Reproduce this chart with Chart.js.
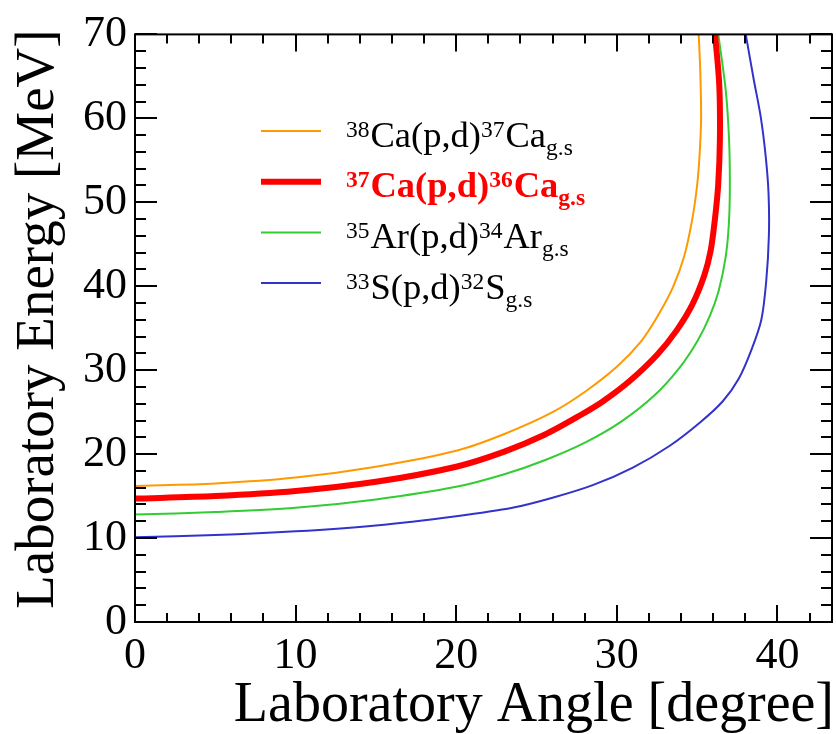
<!DOCTYPE html>
<html lang="en">
<head>
<meta charset="UTF-8">
<meta name="viewport" content="width=device-width, initial-scale=1.0">
<title>Laboratory kinematics (p,d)</title>
<script src="https://cdn.jsdelivr.net/npm/chart.js"></script>
<style>
	html, body { margin: 0; padding: 0; background: #fff; }
	canvas { display: block; }
</style>
</head>
<body>
<canvas id="kinChart" width="836" height="734"></canvas>
<script>
// deuteron lab energy [MeV] vs lab angle [deg], one pair of arrays per reaction
const ca38Angle  = [0, 5, 10, 15, 20, 23, 26, 28, 30, 31.5, 32.5, 33.5, 34.2, 34.7, 35.0, 35.15, 35.25, 35.2, 35.1];
const ca38Energy = [16.2, 16.5, 17.2, 18.5, 20.4, 22.4, 25.0, 27.4, 30.4, 33.4, 36.3, 39.9, 43.6, 48.0, 52.0, 55.5, 60.0, 65.5, 70.0];

const ca37Angle  = [0, 5, 10, 15, 20, 23, 25.5, 27.7, 29.15, 30.8, 32.5, 33.75, 34.7, 35.45, 35.85, 36.11, 36.31, 36.42, 36.38, 36.12];
const ca37Energy = [14.7, 15.0, 15.6, 16.7, 18.5, 20.3, 22.3, 24.6, 26.3, 28.7, 31.8, 34.8, 37.8, 41.3, 44.3, 48.0, 52.0, 57.5, 64.0, 70.0];

const ar35Angle  = [0, 5, 10, 15, 20, 23, 25.55, 28.05, 30.3, 32.35, 33.95, 35.03, 35.8, 36.35, 36.78, 36.98, 37.04, 36.99, 36.78, 36.32];
const ar35Energy = [12.8, 13.1, 13.6, 14.6, 16.1, 17.6, 19.3, 21.4, 23.9, 27.0, 30.4, 33.5, 36.5, 39.5, 43.5, 47.5, 52.0, 57.5, 63.4, 70.0];

const s33Angle  = [0, 5, 10, 15, 20, 23.5, 26, 28.5, 31, 33.3, 35.2, 36.6, 37.6, 38.4, 39.0, 39.3, 39.47, 39.45, 39.27, 38.96, 38.53, 38.03];
const s33Energy = [10.1, 10.35, 10.8, 11.5, 12.6, 13.6, 14.8, 16.3, 18.4, 21.0, 23.8, 26.3, 29.0, 32.5, 36.0, 40.5, 46.0, 51.0, 55.5, 60.2, 64.6, 70.0];

// TLatex style labels: ^{..} superscript, _{..} subscript
const reactionLabels = [
	'^{38}Ca(p,d)^{37}Ca_{g.s}',
	'^{37}Ca(p,d)^{36}Ca_{g.s}',
	'^{35}Ar(p,d)^{34}Ar_{g.s}',
	'^{33}S(p,d)^{32}S_{g.s}'
];

const xTickValues = [0, 10, 20, 30, 40];
const yTickValues = [0, 10, 20, 30, 40, 50, 60, 70];
const xRange = [0, 43.4];
const yRange = [0, 70];

const xTitle = 'Laboratory Angle [degree]';
const yTitle = 'Laboratory Energy [MeV]';

const SERIF = '"Liberation Serif", "DejaVu Serif", "Times New Roman", serif';
Chart.defaults.font.family = SERIF;

const styles = [
	{ color: '#ff9900', width: 2, bold: false, text: '#000' },
	{ color: '#ff0000', width: 6, bold: true,  text: '#ff0000' },
	{ color: '#33cc33', width: 2, bold: false, text: '#000' },
	{ color: '#3333cc', width: 2, bold: false, text: '#000' }
];

function toPoints(ang, en) {
	return ang.map((a, i) => ({ x: a, y: en[i] }));
}

const series = [
	toPoints(ca38Angle, ca38Energy),
	toPoints(ca37Angle, ca37Energy),
	toPoints(ar35Angle, ar35Energy),
	toPoints(s33Angle, s33Energy)
];

function parseLatex(s) {
	const parts = [];
	const re = /([\^_])\{([^}]*)\}|([^\^_]+)/g;
	let m;
	while ((m = re.exec(s))) {
		if (m[1]) parts.push({ text: m[2], shift: m[1] === '^' ? 'sup' : 'sub' });
		else parts.push({ text: m[3], shift: null });
	}
	return parts;
}

// frame with inward ticks on all four sides, plus axis titles
const rootFrame = {
	id: 'rootFrame',
	afterDatasetsDraw(chart) {
		const { ctx, chartArea: a, scales } = chart;
		const xs = scales.x, ys = scales.y;
		ctx.save();
		ctx.strokeStyle = '#000';
		ctx.lineWidth = 2;
		ctx.beginPath();
		for (let v = 0; v <= xs.max + 1e-9; v += 2) {
			const px = Math.round(xs.getPixelForValue(v));
			const len = v % 10 === 0 ? 17 : 9;
			ctx.moveTo(px, a.bottom); ctx.lineTo(px, a.bottom - len);
			ctx.moveTo(px, a.top); ctx.lineTo(px, a.top + len);
		}
		for (let v = 0; v <= ys.max + 1e-9; v += 2) {
			const py = Math.round(ys.getPixelForValue(v));
			const len = v % 10 === 0 ? 22 : 11;
			ctx.moveTo(a.left, py); ctx.lineTo(a.left + len, py);
			ctx.moveTo(a.right, py); ctx.lineTo(a.right - len, py);
		}
		ctx.stroke();
		ctx.strokeRect(a.left, a.top, a.right - a.left, a.bottom - a.top);

		// titles, right/top aligned like ROOT
		ctx.fillStyle = '#000';
		ctx.font = '56px ' + SERIF;
		ctx.textAlign = 'right';
		ctx.textBaseline = 'alphabetic';
		ctx.fillText(xTitle, a.right + 2, 721);
		ctx.translate(53, a.top - 5);
		ctx.rotate(-Math.PI / 2);
		ctx.font = '55px ' + SERIF;
		ctx.fillText(yTitle, 0, 0);
		ctx.restore();
	}
};

// legend with super/subscripts
const latexLegend = {
	id: 'latexLegend',
	afterDraw(chart) {
		const ctx = chart.ctx;
		const lineX0 = 261, lineX1 = 321, textX = 346;
		const rowY0 = 131, rowStep = 50.7;
		const mainSize = 36.5, scriptSize = 23.5;
		ctx.save();
		reactionLabels.forEach((label, i) => {
			const st = styles[i];
			const y = rowY0 + i * rowStep;
			ctx.strokeStyle = st.color;
			ctx.lineWidth = st.width;
			ctx.beginPath();
			ctx.moveTo(lineX0, y); ctx.lineTo(lineX1, y);
			ctx.stroke();

			const base = y + 15.5;
			let x = textX;
			ctx.fillStyle = st.text;
			ctx.textAlign = 'left';
			ctx.textBaseline = 'alphabetic';
			const weight = st.bold ? 'bold ' : '';
			parseLatex(label).forEach(p => {
				const size = p.shift ? scriptSize : mainSize;
				ctx.font = weight + size + 'px ' + SERIF;
				let dy = 0;
				if (p.shift === 'sup') dy = -10;
				if (p.shift === 'sub') dy = 8;
				ctx.fillText(p.text, x, base + dy);
				x += ctx.measureText(p.text).width + (p.shift ? 1 : 0);
			});
		});
		ctx.restore();
	}
};

new Chart(document.getElementById('kinChart'), {
	type: 'scatter',
	data: {
		datasets: series.map((pts, i) => ({
			label: reactionLabels[i],
			data: pts,
			showLine: true,
			borderColor: styles[i].color,
			borderWidth: styles[i].width,
			pointRadius: 0,
			tension: 0.3,
			fill: false,
			order: i === 1 ? -1 : i
		}))
	},
	options: {
		responsive: false,
		animation: false,
		layout: { padding: { top: 27, right: 4, left: 0, bottom: 0 } },
		plugins: {
			legend: { display: false },
			tooltip: { enabled: false }
		},
		scales: {
			x: {
				type: 'linear',
				min: xRange[0],
				max: xRange[1],
				afterBuildTicks: s => { s.ticks = xTickValues.map(v => ({ value: v })); },
				afterFit: s => { s.height = 112; },
				grid: { display: false, drawTicks: false, tickLength: 0 },
				border: { display: false },
				ticks: {
					color: '#000',
					padding: 8,
					maxRotation: 0,
					font: { family: SERIF, size: 44 },
					callback: v => String(v)
				},
				title: { display: false, text: xTitle }
			},
			y: {
				type: 'linear',
				min: yRange[0],
				max: yRange[1],
				afterBuildTicks: s => { s.ticks = yTickValues.map(v => ({ value: v })); },
				afterFit: s => { s.width = 135; },
				grid: { display: false, drawTicks: false, tickLength: 0 },
				border: { display: false },
				ticks: {
					color: '#000',
					padding: 8,
					font: { family: SERIF, size: 44 },
					callback: v => String(v)
				},
				title: { display: false, text: yTitle }
			}
		}
	},
	plugins: [rootFrame, latexLegend]
});
</script>
</body>
</html>
